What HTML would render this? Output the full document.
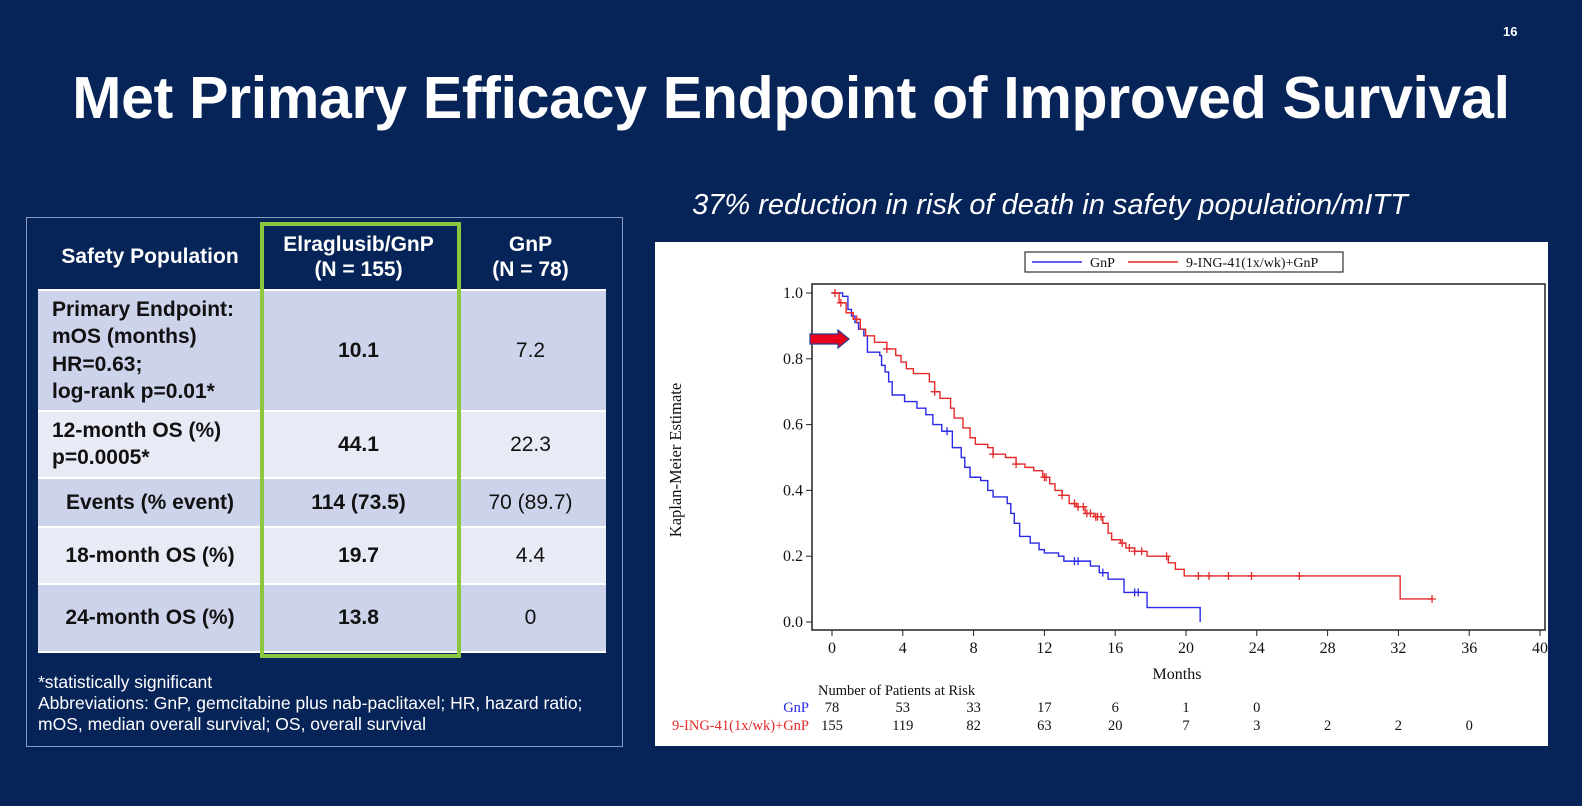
<!DOCTYPE html>
<html><head><meta charset="utf-8"><style>
body{margin:0;width:1582px;height:806px;background:#062457;position:relative;overflow:hidden;font-family:"Liberation Sans",sans-serif;}
.abs{position:absolute}
table{border-collapse:collapse;}
td{font-size:21px;font-weight:bold;color:#111;text-align:center;padding:0;border-bottom:2px solid #fff;}
</style></head><body>
<div class="abs" style="left:1503px;top:24px;color:#fff;font-size:13px;font-weight:bold">16</div>
<div class="abs" style="left:0;width:1582px;top:64px;text-align:center;color:#fff;font-size:59px;font-weight:bold;letter-spacing:-0.3px">Met Primary Efficacy Endpoint of Improved Survival</div>
<div class="abs" style="left:600px;width:900px;top:189px;text-align:center;color:#fff;font-size:29px;font-style:italic">37% reduction in risk of death in safety population/mITT</div>

<div class="abs" style="left:26px;top:217px;width:595px;height:528px;border:1px solid #8a9cc4"></div>
<table class="abs" style="left:38px;top:225px;width:568px">
<tr style="height:65px;background:#062457">
<td style="width:224px;color:#fff">Safety Population</td>
<td style="width:193px;color:#fff;line-height:1.2">Elraglusib/GnP<br>(N = 155)</td>
<td style="color:#fff;line-height:1.2">GnP<br>(N = 78)</td></tr>
<tr style="height:121px;background:#cdd3ea"><td style="text-align:left;padding-left:14px;line-height:1.3">Primary Endpoint:<br>mOS (months)<br>HR=0.63;<br>log-rank p=0.01*</td><td>10.1</td><td style="font-weight:normal">7.2</td></tr>
<tr style="height:67px;background:#e8eaf5"><td style="text-align:left;padding-left:14px;line-height:1.25">12-month OS (%)<br>p=0.0005*</td><td>44.1</td><td style="font-weight:normal">22.3</td></tr>
<tr style="height:49px;background:#cdd3ea"><td>Events (% event)</td><td>114 (73.5)</td><td style="font-weight:normal">70 (89.7)</td></tr>
<tr style="height:57px;background:#e8eaf5"><td>18-month OS (%)</td><td>19.7</td><td style="font-weight:normal">4.4</td></tr>
<tr style="height:68px;background:#cdd3ea"><td>24-month OS (%)</td><td>13.8</td><td style="font-weight:normal">0</td></tr>
</table>
<div class="abs" style="left:260px;top:222px;width:193px;height:428px;border:4px solid #8dc63f"></div>
<div class="abs" style="left:38px;top:672px;color:#fff;font-size:17.5px;line-height:21px">*statistically significant<br>Abbreviations: GnP, gemcitabine plus nab-paclitaxel; HR, hazard ratio;<br>mOS, median overall survival; OS, overall survival</div>

<div class="abs" style="left:655px;top:242px;width:893px;height:504px;background:#fff"></div>
<svg class="abs" style="left:0;top:0" width="1582" height="806" font-family="Liberation Serif, serif">
<g id="g"></g>
</svg>
<script>
const xTicks=[0,4,8,12,16,20,24,28,32,36,40];
const yTicks=[0,0.2,0.4,0.6,0.8,1.0];
const gnpTimes=[0,0.6,0.9,1.1,1.3,1.5,1.8,2.0,2.7,2.8,3.0,3.2,3.4,4.1,4.8,5.3,5.7,6.2,6.8,7.3,7.5,7.8,8.4,8.8,9.1,9.9,10.1,10.3,10.6,11.2,11.7,12.0,12.8,13.1,14.6,15.1,15.6,16.5,17.8,20.8];
const gnpSurv=[1.0,0.99,0.95,0.93,0.91,0.89,0.87,0.82,0.81,0.78,0.76,0.73,0.69,0.67,0.65,0.63,0.60,0.58,0.53,0.50,0.47,0.44,0.43,0.40,0.38,0.36,0.33,0.30,0.26,0.24,0.22,0.21,0.20,0.185,0.17,0.15,0.13,0.09,0.044,0];
const gnpCensor=[6.5,13.7,13.9,15.3,17.1,17.3];
const ingTimes=[0,0.4,0.8,1.2,1.6,1.9,2.4,3.1,3.6,3.9,4.2,4.6,5.5,5.8,6.1,6.7,6.9,7.4,7.8,8.1,8.8,9.1,9.8,10.4,10.9,11.4,11.9,12.3,12.6,13.0,13.4,13.8,14.3,14.8,15.3,15.6,15.8,16.3,16.6,17.1,17.8,19.0,19.4,19.9,32.1,33.9];
const ingSurv=[1.0,0.97,0.94,0.92,0.89,0.87,0.85,0.83,0.81,0.79,0.77,0.755,0.73,0.70,0.68,0.65,0.62,0.59,0.56,0.54,0.53,0.51,0.50,0.48,0.47,0.46,0.44,0.42,0.40,0.385,0.36,0.35,0.33,0.32,0.30,0.27,0.25,0.24,0.225,0.215,0.20,0.18,0.16,0.14,0.07,0.07];
const ingCensor=[0.17,0.5,1.4,3.1,5.8,9.1,10.4,12.0,12.1,13.0,13.7,13.9,14.2,14.4,14.6,14.9,15.0,15.2,16.4,16.8,17.1,17.5,18.9,20.7,21.3,22.4,23.7,26.4,33.9];
const riskTimes=[0,4,8,12,16,20,24,28,32,36];
const gnpRisk=[78,53,33,17,6,1,0];
const ingRisk=[155,119,82,63,20,7,3,2,2,0];

const X=t=>832+t*(1540-832)/40;
const Y=s=>622-s*(622-293);
const g=document.getElementById('g');
const NS='http://www.w3.org/2000/svg';
function mk(tag,attrs,txt){const e=document.createElementNS(NS,tag);for(const k in attrs)e.setAttribute(k,attrs[k]);if(txt!==undefined)e.textContent=txt;g.appendChild(e);return e;}
let e;
e=mk('rect',{x:812,y:284,width:733,height:346,fill:'none',stroke:'#222','stroke-width':1.5});


xTicks.forEach(t=>{
 e=mk('line',{x1:X(t),x2:X(t),y1:630,y2:636,stroke:'#222'});
 
 
 e=mk('text',{x:X(t),y:653,'text-anchor':'middle','font-size':16,fill:'#111'},String(t));
 
 
});
yTicks.forEach(v=>{
 e=mk('line',{x1:806,x2:812,y1:Y(v),y2:Y(v),stroke:'#222'});
 
 
 e=mk('text',{x:803,y:Y(v)+5,'text-anchor':'end','font-size':16,fill:'#111'},v.toFixed(1));
 
 
});
e=mk('text',{x:0,y:0,transform:'translate(681,460) rotate(-90)','text-anchor':'middle','font-size':16.5,fill:'#111'},'Kaplan-Meier Estimate');


e=mk('text',{x:1177,y:679,'text-anchor':'middle','font-size':16,fill:'#111'},'Months');


function stepPath(ts,ss){let d='M'+X(ts[0])+','+Y(ss[0]);for(let i=1;i<ts.length;i++){d+=' H'+X(ts[i])+' V'+Y(ss[i]);}return d;}
function survAt(ts,ss,t){let s=ss[0];for(let i=0;i<ts.length;i++){if(ts[i]<=t)s=ss[i];}return s;}
function series(ts,ss,cs,col,name){
 e=mk('path',{d:stepPath(ts,ss),fill:'none',stroke:col,'stroke-width':1.4});
 
 
 cs.forEach(t=>{const x=X(t),y=Y(survAt(ts,ss,t));
  e=mk('path',{d:`M${x-4},${y}H${x+4}M${x},${y-4}V${y+4}`,stroke:col,'stroke-width':1.3});
  
  
 });
}
series(gnpTimes,gnpSurv,gnpCensor,'#2a2ae8','gnp');
series(ingTimes,ingSurv,ingCensor,'#e52a2a','ing41');
e=mk('path',{d:'M810,334 H838 V330 L849,339 L838,348 V344 H810 Z',fill:'#e8001c',stroke:'#2b3a8c','stroke-width':1.2});


e=mk('rect',{x:1025,y:252,width:318,height:20,fill:'#fff',stroke:'#333','stroke-width':1.2});


e=mk('line',{x1:1032,x2:1082,y1:262,y2:262,stroke:'#2a2ae8','stroke-width':1.5});


e=mk('text',{x:1090,y:267,'font-size':14,fill:'#111'},'GnP');


e=mk('line',{x1:1128,x2:1178,y1:262,y2:262,stroke:'#e52a2a','stroke-width':1.5});


e=mk('text',{x:1186,y:267,'font-size':14,fill:'#111'},'9-ING-41(1x/wk)+GnP');


e=mk('text',{x:818,y:695,'font-size':14.5,fill:'#111'},'Number of Patients at Risk');


e=mk('text',{x:809,y:712,'text-anchor':'end','font-size':14.5,fill:'#2a2ae8'},'GnP');


e=mk('text',{x:809,y:730,'text-anchor':'end','font-size':14.5,fill:'#e52a2a'},'9-ING-41(1x/wk)+GnP');


gnpRisk.forEach((n,i)=>{e=mk('text',{x:X(riskTimes[i]),y:712,'text-anchor':'middle','font-size':14.5,fill:'#111'},String(n));
 
 });
ingRisk.forEach((n,i)=>{e=mk('text',{x:X(riskTimes[i]),y:730,'text-anchor':'middle','font-size':14.5,fill:'#111'},String(n));
 
 });
</script>
</body></html>
